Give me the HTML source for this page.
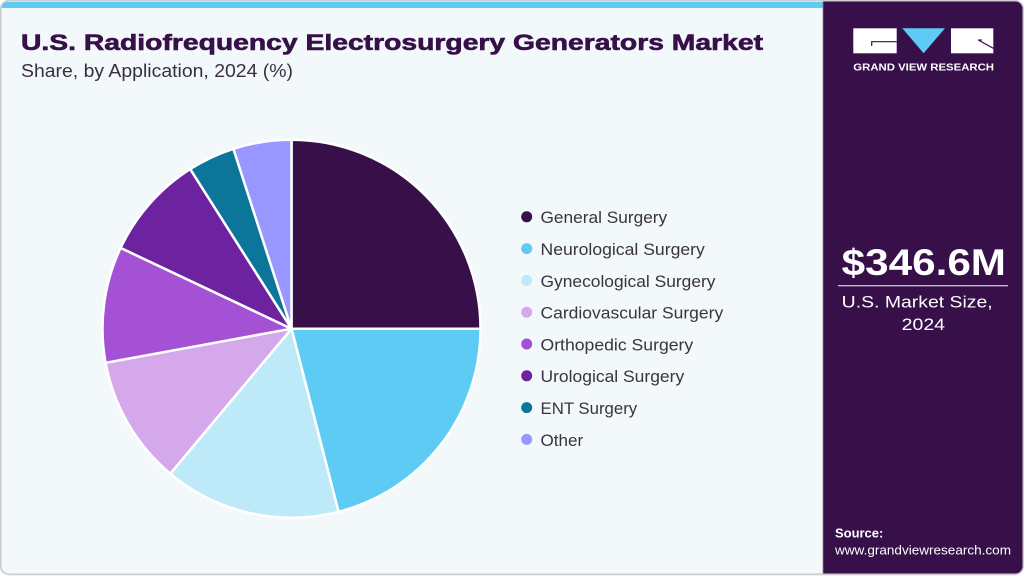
<!DOCTYPE html>
<html>
<head>
<meta charset="utf-8">
<style>
  html, body { margin: 0; padding: 0; background: #ffffff; }
  svg { display: block; }
  text { font-family: "Liberation Sans", "DejaVu Sans", sans-serif; }
</style>
</head>
<body>
<svg width="1025" height="576" viewBox="0 0 1025 576" xmlns="http://www.w3.org/2000/svg">
  <defs>
    <clipPath id="card">
      <rect x="1" y="1" width="1022" height="573" rx="8" ry="8"/>
    </clipPath>
  </defs>

  <!-- card -->
  <rect x="0.75" y="0.75" width="1022.5" height="573.5" rx="8" ry="8" fill="#f3f8fb" stroke="#cdcdcd" stroke-width="1.5"/>
  <line x1="8" y1="575" x2="1016" y2="575" stroke="#e2e2e2" stroke-width="1"/>

  <g clip-path="url(#card)">
    <!-- top blue bar -->
    <rect x="0" y="2" width="823" height="6" fill="#5ecbf5"/>
    <!-- right panel -->
    <rect x="823" y="0" width="202" height="576" fill="#381049"/>
    <line x1="823" y1="0" x2="823" y2="576" stroke="#8f7f99" stroke-width="0.8"/>
  </g>
  <rect x="0.75" y="0.75" width="1022.5" height="573.5" rx="8" ry="8" fill="none" stroke="#cdcdcd" stroke-width="1.5"/>

  <!-- title -->
  <text x="21" y="50" font-size="22" font-weight="bold" fill="#381049" stroke="#381049" stroke-width="0.6" textLength="742" lengthAdjust="spacingAndGlyphs">U.S. Radiofrequency Electrosurgery Generators Market</text>
  <text x="21" y="77" font-size="18" fill="#3a2f42" textLength="272" lengthAdjust="spacingAndGlyphs">Share, by Application, 2024 (%)</text>

  <!-- pie -->
  <g stroke="#ffffff" stroke-width="2.5" stroke-linejoin="round">
    <path d="M291.5,328.7 L291.5,139.7 A189,189 0 0 1 480.5,328.7 Z" fill="#381049"/>
    <path d="M291.5,328.7 L480.5,328.7 A189,189 0 0 1 338.5,511.8 Z" fill="#5ecbf5"/>
    <path d="M291.5,328.7 L338.5,511.8 A189,189 0 0 1 170.3,473.7 Z" fill="#bde9f9"/>
    <path d="M291.5,328.7 L170.3,473.7 A189,189 0 0 1 105.6,362.8 Z" fill="#d4a8ea"/>
    <path d="M291.5,328.7 L105.6,362.8 A189,189 0 0 1 120.6,247.9 Z" fill="#a451d6"/>
    <path d="M291.5,328.7 L120.6,247.9 A189,189 0 0 1 190.2,169.1 Z" fill="#6d22a0"/>
    <path d="M291.5,328.7 L190.2,169.1 A189,189 0 0 1 233.4,148.8 Z" fill="#0b769a"/>
    <path d="M291.5,328.7 L233.4,148.8 A189,189 0 0 1 291.5,139.7 Z" fill="#9896ff"/>
  </g>

  <!-- legend -->
  <g font-size="17" fill="#3b3340">
    <circle cx="526.7" cy="216.8" r="5.5" fill="#381049"/>
    <text x="540.5" y="223.2" textLength="126.7" lengthAdjust="spacingAndGlyphs">General Surgery</text>
    <circle cx="526.7" cy="248.6" r="5.5" fill="#5ecbf5"/>
    <text x="540.5" y="255.0" textLength="164.3" lengthAdjust="spacingAndGlyphs">Neurological Surgery</text>
    <circle cx="526.7" cy="280.4" r="5.5" fill="#bde9f9"/>
    <text x="540.5" y="286.8" textLength="175" lengthAdjust="spacingAndGlyphs">Gynecological Surgery</text>
    <circle cx="526.7" cy="312.2" r="5.5" fill="#d4a8ea"/>
    <text x="540.5" y="318.6" textLength="182.7" lengthAdjust="spacingAndGlyphs">Cardiovascular Surgery</text>
    <circle cx="526.7" cy="344.0" r="5.5" fill="#a451d6"/>
    <text x="540.5" y="350.4" textLength="152.7" lengthAdjust="spacingAndGlyphs">Orthopedic Surgery</text>
    <circle cx="526.7" cy="375.8" r="5.5" fill="#6d22a0"/>
    <text x="540.5" y="382.2" textLength="143.7" lengthAdjust="spacingAndGlyphs">Urological Surgery</text>
    <circle cx="526.7" cy="407.6" r="5.5" fill="#0b769a"/>
    <text x="540.5" y="414.0" textLength="96.7" lengthAdjust="spacingAndGlyphs">ENT Surgery</text>
    <circle cx="526.7" cy="439.4" r="5.5" fill="#9896ff"/>
    <text x="540.5" y="445.8" textLength="42.7" lengthAdjust="spacingAndGlyphs">Other</text>
  </g>

  <!-- logo -->
  <g>
    <rect x="853.3" y="28.3" width="43.4" height="25" fill="#ffffff"/>
    <polyline points="896.7,41.7 871.7,41.7 871.7,46" fill="none" stroke="#381049" stroke-width="1.2"/>
    <polygon points="902.3,28.3 945,28.3 923.6,53.3" fill="#5ecbf5"/>
    <rect x="951" y="28.3" width="42.3" height="25" fill="#ffffff"/>
    <polyline points="978.3,40 993.3,48.3" fill="none" stroke="#381049" stroke-width="1.2"/>
    <line x1="978.3" y1="40" x2="982" y2="40" stroke="#381049" stroke-width="1.2"/>
    <text x="853.3" y="70.7" font-size="10.5" font-weight="bold" fill="#ffffff" textLength="140.7" lengthAdjust="spacingAndGlyphs">GRAND VIEW RESEARCH</text>
  </g>

  <!-- market size -->
  <text x="841.7" y="275" font-size="37" font-weight="bold" fill="#ffffff" textLength="164.3" lengthAdjust="spacingAndGlyphs">$346.6M</text>
  <line x1="838" y1="285.7" x2="1008" y2="285.7" stroke="#c6bdcc" stroke-width="1.3"/>
  <text x="841.7" y="307.7" font-size="17" fill="#ffffff" textLength="151" lengthAdjust="spacingAndGlyphs">U.S. Market Size,</text>
  <text x="901.7" y="330" font-size="17" fill="#ffffff" textLength="43.3" lengthAdjust="spacingAndGlyphs">2024</text>

  <!-- source -->
  <text x="835" y="537.3" font-size="13" font-weight="bold" fill="#ffffff" textLength="48.3" lengthAdjust="spacingAndGlyphs">Source:</text>
  <text x="835" y="554.3" font-size="13" fill="#ffffff" textLength="176" lengthAdjust="spacingAndGlyphs">www.grandviewresearch.com</text>
</svg>
</body>
</html>
